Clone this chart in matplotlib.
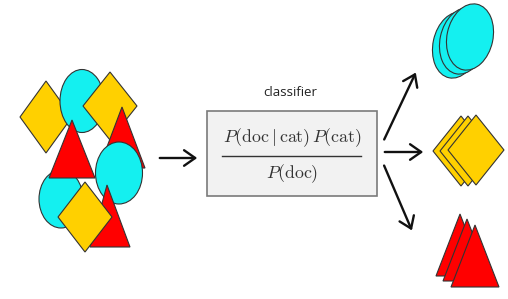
import matplotlib
matplotlib.use("Agg")
import matplotlib.pyplot as plt
from matplotlib.patches import Ellipse, Polygon, Rectangle, FancyArrowPatch

plt.rcParams['mathtext.fontset'] = 'cm'

CYAN = '#14f0f0'
YELLOW = '#ffd000'
RED = '#ff0000'
EDGE = '#333333'

# left cluster: (kind, params) in drawing order
cluster = [
    ('diamond', (46, 117, 26, 36)),
    ('ellipse', (82, 101, 44, 63)),
    ('diamond', (110, 106, 27, 34)),
    ('triangle', ((122, 107), (99, 168), (145, 168))),
    ('ellipse', (61, 199, 44, 58)),
    ('triangle', ((72, 120), (49, 178), (95, 178))),
    ('ellipse', (119, 173, 47, 62)),
    ('triangle', ((107, 185), (90, 247), (130, 247))),
    ('diamond', (85, 217, 27, 35)),
]

# sorted outputs
cyan_stack = [(456, 45), (463, 41), (470, 37)]
cyan_size = (46, 67)
yellow_stack = [(461, 151), (468, 151), (476, 150)]
yellow_half = (28, 35)
red_stack = [(460, 214), (467, 219), (475, 225)]
red_half_base, red_height = 24, 62

label = 'classifier'
numerator = r'$P(\mathrm{doc}\mid\mathrm{cat})\,P(\mathrm{cat})$'
denominator = r'$P(\mathrm{doc})$'

fig = plt.figure(figsize=(5.08, 2.99), dpi=100)
ax = fig.add_axes([0, 0, 1, 1])
ax.set_xlim(0, 508)
ax.set_ylim(299, 0)
ax.axis('off')


def diamond(cx, cy, hw, hh, color, z):
    ax.add_patch(Polygon([(cx, cy - hh), (cx + hw, cy), (cx, cy + hh), (cx - hw, cy)],
                         closed=True, fc=color, ec=EDGE, lw=0.8, zorder=z))


def ellipse(cx, cy, w, h, color, z, angle=0):
    ax.add_patch(Ellipse((cx, cy), w, h, angle=angle, fc=color, ec=EDGE, lw=0.8, zorder=z))


def triangle(pts, color, z):
    ax.add_patch(Polygon(pts, closed=True, fc=color, ec=EDGE, lw=0.8, zorder=z))


for z, (kind, p) in enumerate(cluster):
    if kind == 'diamond':
        diamond(*p, YELLOW, z + 1)
    elif kind == 'ellipse':
        ellipse(*p, CYAN, z + 1)
    else:
        triangle(p, RED, z + 1)

for i, (cx, cy) in enumerate(cyan_stack):
    ellipse(cx, cy, *cyan_size, CYAN, 20 + i, angle=12)
for i, (cx, cy) in enumerate(yellow_stack):
    diamond(cx, cy, *yellow_half, YELLOW, 20 + i)
for i, (ax_, ay) in enumerate(red_stack):
    triangle([(ax_, ay), (ax_ - red_half_base, ay + red_height), (ax_ + red_half_base, ay + red_height)], RED, 20 + i)

# box
ax.add_patch(Rectangle((207, 111), 170, 85, fc='#f2f2f2', ec='#7a7a7a', lw=1.2, zorder=5))
ax.text(290, 93, label, ha='center', va='center', fontsize=9.5, color='#222222',
        family='Open Sans', zorder=6)
ax.text(292, 138, numerator, ha='center', va='center', fontsize=12.8, color='#333333', zorder=6)
ax.plot([222, 361], [156, 156], color='#333333', lw=1.0, zorder=6)
ax.text(292, 174, denominator, ha='center', va='center', fontsize=12.8, color='#333333', zorder=6)

# arrows
def arrow(p0, p1):
    ax.add_patch(FancyArrowPatch(p0, p1, arrowstyle='->,head_length=5,head_width=3.5',
                                 mutation_scale=1.6, lw=1.7, color='#111111', zorder=10))

arrow((157, 158), (200, 158))
arrow((383, 142), (417, 70))
arrow((382, 152), (426, 152))
arrow((383, 163), (413, 233))

fig.savefig('out.png', dpi=100)
